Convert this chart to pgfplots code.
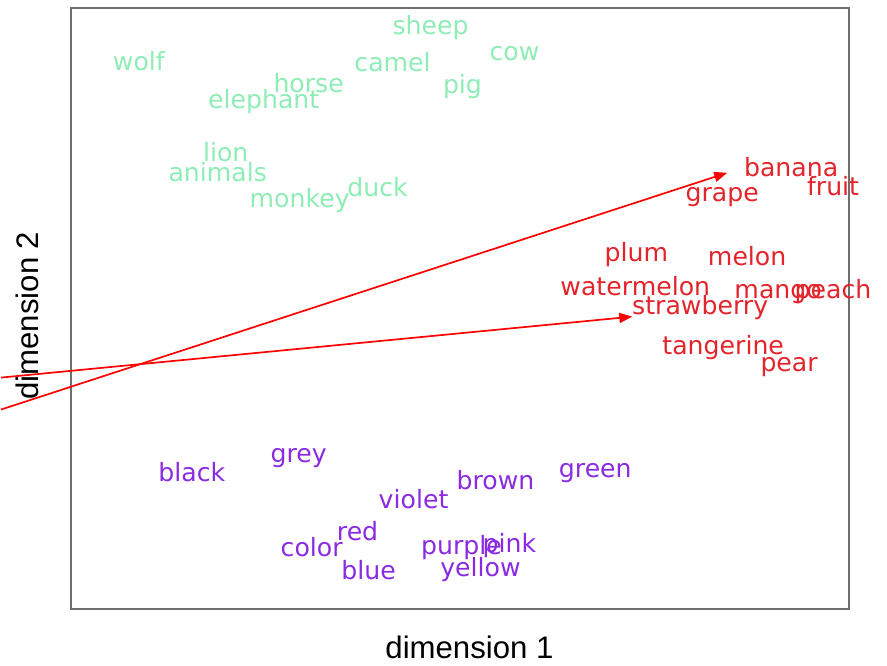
\documentclass[border=0pt]{standalone}
\usepackage{fontspec}
\setmainfont{Liberation Sans}
\newfontfamily\dejavu{DejaVu Sans}
\usepackage{pgfplots}
\pgfplotsset{compat=1.18}
\usetikzlibrary{arrows.meta}
\definecolor{anim}{HTML}{8EEDB5}
\definecolor{frt}{HTML}{E4242B}
\definecolor{col}{HTML}{8A2BE2}
\definecolor{frame}{HTML}{6E6E6E}
\begin{document}
\begin{tikzpicture}
\begin{axis}[
  scale only axis,
  width=389.5pt, height=301pt,
  xmin=70, xmax=849, ymin=8, ymax=610,
  y dir=reverse,
  clip=false,
  axis line style={frame, line width=1pt},
  xtick=\empty, ytick=\empty,
  point meta=explicit symbolic,
  nodes near coords={\pgfplotspointmeta},
  nodes near coords align={anchor=base},
  every node near coord/.append style={anchor=base, inner sep=0pt, font=\dejavu\fontsize{12.6}{15}\selectfont},
]
% animals
\addplot[only marks, mark=none, anim, every node near coord/.append style={text=anim}] table[meta=label] {
x y label
430 35 sheep
514 61 cow
138 71 wolf
392 72 camel
308 93 horse
462 94 pig
263 109 elephant
225 162 lion
217 182 animals
377 197 duck
299 208 monkey
};
% fruits
\addplot[only marks, mark=none, frt, every node near coord/.append style={text=frt}] table[meta=label] {
x y label
791 177 banana
833 196 fruit
722 202 grape
636 262 plum
747 266 melon
635 296 watermelon
778 299 mango
833 299 peach
700 315 strawberry
723 355 tangerine
789 372 pear
};
% colours
\addplot[only marks, mark=none, col, every node near coord/.append style={text=col}] table[meta=label] {
x y label
191 482 black
298 463 grey
495 490 brown
595 478 green
413 509 violet
357 541 red
311 557 color
461 555 purple
509 553 pink
368 580 blue
480 577 yellow
};
% arrows
\addplot[red, line width=0.85pt, -{Triangle[length=6.5pt,width=5pt]}, nodes near coords={}] coordinates {(0,410) (727,173)};
\addplot[red, line width=0.85pt, -{Triangle[length=6.5pt,width=5pt]}, nodes near coords={}] coordinates {(0,378) (632,317)};
\node[font=\fontsize{15.6}{18}\selectfont] at (axis cs:469,648) {dimension 1};
\node[font=\fontsize{15.6}{18}\selectfont, rotate=90] at (axis cs:26,316) {dimension 2};
\path (axis cs:0,0) rectangle (axis cs:887,662);
\end{axis}
\end{tikzpicture}
\end{document}
